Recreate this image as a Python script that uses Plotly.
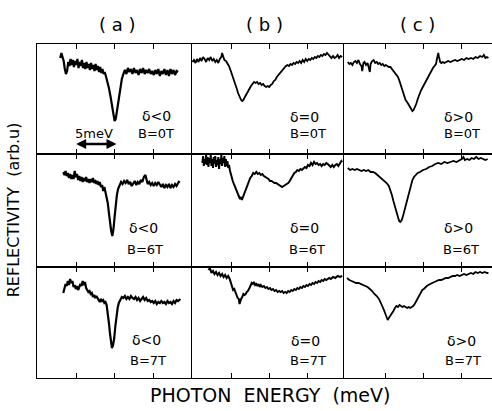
import plotly.graph_objects as go
from plotly.subplots import make_subplots

# ---------------- data (photon energy in meV, reflectivity in arb. units) -------------
A1 = [(2.8,96),(2.95,101),(3.1,97),(3.25,93),(3.4,85),(3.55,80),(3.7,83),(3.85,92),(4.0,88),(4.15,95),
      (4.3,89),(4.45,94),(4.6,87),(4.75,93),(4.9,89),(5.05,95),(5.2,86),(5.35,92),(5.5,88),(5.65,94),
      (5.8,86),(5.95,91),(6.1,85),(6.25,92),(6.4,86),(6.55,90),(6.7,84),(6.85,91),(7.0,85),(7.15,89),
      (7.3,83),(7.45,90),(7.6,84),(7.75,88),(7.9,82),(8.05,87),(8.2,81),(8.35,85),(8.5,80),(8.65,82),
      (8.8,78),(9.0,73),(9.2,66),(9.4,58),(9.6,48),(9.8,38),(9.95,33),(10.1,35),(10.3,45),(10.5,57),
      (10.7,67),(10.9,75),(11.1,80),(11.3,84),(11.5,80),(11.7,86),(11.9,82),(12.1,85),(12.3,80),(12.5,86),
      (12.7,81),(12.9,84),(13.1,79),(13.3,85),(13.5,81),(13.7,86),(13.9,80),(14.1,84),(14.3,81),(14.5,85),
      (14.7,80),(14.9,83),(15.1,79),(15.3,84),(15.5,80),(15.7,85),(15.9,78),(16.1,83),(16.3,80),(16.5,85),
      (16.7,79),(16.9,84),(17.1,78),(17.3,85),(17.5,80),(17.7,84),(17.9,79),(18.1,83),(18.3,82)]

A2 = [(3.2,95),(3.35,92),(3.5,96),(3.65,91),(3.8,94),(3.95,89),(4.1,93),(4.25,88),(4.4,92),(4.55,88),
      (4.7,96),(4.85,90),(5.0,93),(5.15,87),(5.3,91),(5.45,86),(5.6,90),(5.75,85),(5.9,89),(6.05,86),
      (6.2,90),(6.35,85),(6.5,88),(6.65,84),(6.8,88),(6.95,85),(7.1,89),(7.25,84),(7.4,87),(7.55,83),
      (7.7,86),(7.85,82),(8.0,85),(8.15,80),(8.3,82),(8.45,76),(8.6,80),(8.75,75),(8.9,72),(9.05,64),
      (9.2,54),(9.35,44),(9.5,36),(9.65,31),(9.8,38),(9.95,50),(10.1,62),(10.25,72),(10.4,78),(10.6,82),
      (10.8,85),(11.0,83),(11.2,86),(11.4,84),(11.6,87),(11.8,83),(12.0,85),(12.2,81),(12.4,84),(12.6,86),
      (12.8,82),(13.0,85),(13.2,83),(13.4,87),(13.6,85),(13.8,90),(14.0,92),(14.15,86),(14.3,83),(14.5,85),
      (14.7,82),(14.9,84),(15.1,81),(15.3,84),(15.5,82),(15.7,85),(15.9,83),(16.1,80),(16.3,83),(16.5,79),
      (16.7,82),(16.9,80),(17.1,83),(17.3,79),(17.5,82),(17.7,80),(17.9,83),(18.1,81),(18.3,84),(18.5,86)]

A3 = [(3.2,85),(3.35,90),(3.5,94),(3.65,92),(3.8,97),(3.95,93),(4.1,99),(4.25,95),(4.4,97),(4.55,91),
      (4.7,93),(4.85,89),(5.0,92),(5.15,88),(5.3,91),(5.45,94),(5.6,92),(5.75,97),(5.9,93),(6.05,96),
      (6.2,90),(6.35,88),(6.5,86),(6.65,87),(6.8,84),(6.95,85),(7.1,81),(7.25,83),(7.4,80),(7.55,82),
      (7.7,79),(7.85,78),(8.0,76),(8.15,79),(8.3,77),(8.45,78),(8.6,75),(8.75,76),(8.9,73),(9.05,66),
      (9.2,55),(9.35,44),(9.5,34),(9.6,30),(9.75,33),(9.9,40),(10.05,52),(10.2,62),(10.35,70),(10.5,75),
      (10.7,79),(10.9,81),(11.1,80),(11.3,82),(11.5,79),(11.7,81),(11.9,79),(12.1,82),(12.3,80),(12.5,79),
      (12.7,81),(12.9,78),(13.1,80),(13.3,77),(13.5,79),(13.7,81),(13.9,78),(14.1,80),(14.3,77),(14.5,78),
      (14.7,76),(14.9,77),(15.1,75),(15.3,77),(15.5,74),(15.7,76),(15.9,75),(16.1,77),(16.3,75),(16.5,76),
      (16.7,74),(16.9,77),(17.1,75),(17.3,76),(17.5,74),(17.7,77),(17.9,75),(18.1,78),(18.3,77),(18.6,79)]

B1 = [(-0.2,92),(0.0,94),(0.2,91),(0.4,95),(0.6,92),(0.8,96),(1.0,93),(1.2,97),(1.4,95),(1.6,92),
      (1.8,96),(2.0,94),(2.2,97),(2.4,93),(2.6,95),(2.8,92),(3.0,94),(3.2,91),(3.4,95),(3.6,97),
      (3.7,101),(3.85,96),(4.0,94),(4.2,93),(4.4,91),(4.6,88),(4.8,84),(5.0,80),(5.2,76),(5.4,71),
      (5.6,66),(5.8,61),(6.0,57),(6.2,54),(6.35,53),(6.5,54),(6.7,57),(6.9,60),(7.1,63),(7.3,66),
      (7.5,68),(7.7,70),(7.9,72),(8.1,71),(8.3,72),(8.5,70),(8.7,71),(8.9,69),(9.1,70),(9.3,68),
      (9.5,67),(9.7,68),(9.9,67),(10.1,69),(10.3,70),(10.5,73),(10.7,74),(10.9,77),(11.1,79),(11.3,80),
      (11.5,82),(11.7,84),(11.9,86),(12.1,88),(12.3,89),(12.5,88),(12.7,90),(12.9,89),(13.1,91),(13.3,90),
      (13.5,92),(13.7,91),(13.9,93),(14.1,91),(14.3,94),(14.5,92),(14.7,95),(14.9,93),(15.1,95),(15.3,94),
      (15.5,96),(15.7,95),(15.9,97),(16.1,96),(16.3,98),(16.5,97),(16.7,99),(16.9,98),(17.1,100),(17.3,99),
      (17.5,101),(17.7,99),(17.9,97),(18.1,96),(18.3,98),(18.5,96),(18.7,97),(18.9,99),(19.1,96),(19.3,98),
      (19.5,97)]

B2 = [(1.1,104),(1.2,111),(1.3,101),(1.4,108),(1.5,103),(1.6,112),(1.7,102),(1.8,110),(1.9,100),(2.0,109),
      (2.1,104),(2.2,112),(2.3,101),(2.4,108),(2.5,99),(2.6,110),(2.7,103),(2.8,111),(2.9,100),(3.0,107),
      (3.1,102),(3.2,110),(3.3,98),(3.4,108),(3.5,103),(3.6,112),(3.7,101),(3.8,109),(3.9,104),(4.0,111),
      (4.1,100),(4.2,108),(4.3,101),(4.4,106),(4.5,99),(4.6,102),(4.75,96),(4.9,91),(5.1,86),(5.3,82),
      (5.5,78),(5.7,74),(5.9,70),(6.05,68),(6.2,70),(6.3,67),(6.45,70),(6.6,73),(6.8,78),(7.0,82),
      (7.2,86),(7.4,89),(7.6,91),(7.8,94),(8.0,93),(8.2,95),(8.4,93),(8.6,94),(8.8,92),(9.0,93),
      (9.2,91),(9.4,90),(9.6,89),(9.8,88),(10.0,86),(10.2,86),(10.4,85),(10.6,84),(10.8,84),(11.0,83),
      (11.2,82),(11.4,81),(11.6,80),(11.8,81),(12.0,82),(12.2,83),(12.4,84),(12.6,86),(12.8,89),(13.0,92),
      (13.2,94),(13.4,95),(13.6,97),(13.8,96),(14.0,98),(14.2,97),(14.4,99),(14.6,100),(14.8,99),(15.0,102),
      (15.2,101),(15.4,104),(15.6,102),(15.8,105),(16.0,103),(16.2,104),(16.4,102),(16.6,103),(16.8,101),(17.0,103),
      (17.2,102),(17.4,104),(17.6,103),(17.8,101),(18.0,100),(18.2,102),(18.4,100),(18.6,102),(18.8,103),(19.0,101),
      (19.2,104),(19.4,106),(19.5,105)]

B3 = [(1.9,108),(2.1,110),(2.3,105),(2.5,107),(2.7,104),(2.9,106),(3.1,103),(3.3,105),(3.5,102),(3.7,104),
      (3.9,101),(4.1,103),(4.3,100),(4.5,102),(4.7,99),(4.85,96),(5.0,91),(5.15,88),(5.3,89),(5.45,85),
      (5.6,83),(5.75,80),(5.9,79),(6.0,74),(6.1,77),(6.2,79),(6.35,81),(6.5,84),(6.65,83),(6.8,84),
      (6.95,86),(7.1,87),(7.3,90),(7.45,93),(7.6,95),(7.75,94),(7.9,96),(8.05,93),(8.2,94),(8.35,92),
      (8.5,94),(8.65,91),(8.8,93),(9.0,91),(9.2,92),(9.4,90),(9.6,91),(9.8,89),(10.0,90),(10.2,88),
      (10.4,89),(10.6,87),(10.8,88),(11.0,86),(11.2,87),(11.4,86),(11.6,87),(11.8,85),(12.0,86),(12.2,85),
      (12.4,87),(12.6,86),(12.8,88),(13.0,87),(13.2,89),(13.4,88),(13.6,90),(13.8,89),(14.0,91),(14.2,90),
      (14.4,92),(14.6,91),(14.8,93),(15.0,92),(15.2,94),(15.4,93),(15.6,95),(15.8,94),(16.0,96),(16.2,95),
      (16.4,97),(16.6,96),(16.8,98),(17.0,97),(17.2,99),(17.4,98),(17.6,99),(17.8,100),(18.0,99),(18.3,101),
      (18.6,100),(18.9,102),(19.2,101),(19.5,102)]

C1 = [(0.1,92),(0.3,90),(0.5,91),(0.7,89),(0.9,92),(1.1,93),(1.3,91),(1.5,94),(1.7,90),(1.9,88),
      (2.0,83),(2.15,91),(2.3,92),(2.5,89),(2.7,91),(2.85,87),(3.0,82),(3.1,90),(3.3,93),(3.5,94),
      (3.7,91),(3.9,92),(4.1,90),(4.3,91),(4.5,89),(4.7,90),(4.9,88),(5.1,89),(5.3,88),(5.5,87),
      (5.7,87),(5.9,85),(6.1,84),(6.3,82),(6.5,80),(6.7,77),(6.9,73),(7.1,68),(7.3,62),(7.5,57),
      (7.7,54),(7.9,52),(8.1,49),(8.3,47),(8.5,44),(8.6,43),(8.75,44),(8.9,46),(9.1,50),(9.3,55),
      (9.5,60),(9.7,63),(9.9,66),(10.1,69),(10.3,72),(10.5,75),(10.7,78),(10.9,81),(11.1,84),(11.3,86),
      (11.5,88),(11.7,90),(11.85,96),(12.0,101),(12.1,97),(12.25,92),(12.4,91),(12.6,92),(12.8,91),(13.0,92),
      (13.3,93),(13.6,92),(13.9,93),(14.2,94),(14.5,93),(14.8,94),(15.1,95),(15.4,94),(15.7,96),(16.0,95),
      (16.3,96),(16.6,95),(16.9,97),(17.2,96),(17.5,98),(17.8,97),(18.0,99),(18.2,96),(18.4,97),(18.6,96)]

C2 = [(0.1,99),(0.4,97),(0.7,98),(1.0,97),(1.3,98),(1.6,97),(1.9,96),(2.2,97),(2.5,96),(2.8,97),
      (3.1,95),(3.4,95),(3.7,94),(4.0,92),(4.3,90),(4.6,88),(4.9,86),(5.2,84),(5.5,81),(5.7,77),
      (5.9,72),(6.1,66),(6.3,60),(6.5,54),(6.7,49),(6.85,46),(7.0,45),(7.2,47),(7.4,52),(7.6,58),
      (7.8,64),(8.0,70),(8.2,76),(8.4,82),(8.6,87),(8.8,90),(9.0,92),(9.3,94),(9.6,95),(10.0,97),
      (10.4,98),(10.8,100),(11.2,101),(11.6,103),(12.0,104),(12.4,103),(12.8,105),(13.2,104),(13.6,105),(14.0,106),
      (14.4,105),(14.8,107),(15.1,108),(15.3,110),(15.5,107),(15.8,108),(16.1,107),(16.4,109),(16.7,108),(17.0,110),
      (17.3,108),(17.6,109),(17.9,108),(18.2,107),(18.5,108)]

C3 = [(0.0,100),(0.3,98),(0.6,97),(0.9,96),(1.2,95),(1.5,95),(1.8,94),(2.1,93),(2.4,92),(2.7,91),
      (3.0,89),(3.3,87),(3.6,84),(3.9,82),(4.2,79),(4.4,76),(4.6,73),(4.8,69),(5.0,65),(5.2,61),
      (5.35,58),(5.5,60),(5.7,62),(5.9,65),(6.1,67),(6.3,70),(6.5,72),(6.7,71),(6.9,73),(7.1,72),
      (7.3,71),(7.5,72),(7.7,71),(7.9,70),(8.1,71),(8.3,70),(8.5,71),(8.7,72),(8.9,74),(9.1,77),
      (9.3,80),(9.5,83),(9.7,86),(9.9,88),(10.1,89),(10.3,91),(10.5,92),(10.7,93),(10.9,94),(11.2,95),
      (11.5,96),(11.8,97),(12.1,98),(12.4,98),(12.7,99),(13.0,100),(13.3,100),(13.6,101),(13.9,102),(14.2,102),
      (14.5,103),(14.8,102),(15.1,103),(15.4,104),(15.7,103),(16.0,104),(16.3,105),(16.6,104),(16.9,106),(17.2,105),
      (17.5,106),(17.8,105),(18.1,106),(18.4,105),(18.6,105)]

PANELS = [[A1, B1, C1], [A2, B2, C2], [A3, B3, C3]]
COLUMN_LABELS = ["( a )", "( b )", "( c )"]
DELTA_LABELS = ["δ<0", "δ=0", "δ>0"]
FIELD_LABELS = ["B=0T", "B=6T", "B=7T"]
TICK_VALUES = [5, 10, 15]
SCALE_BAR = "5meV"

# ---------------- figure ----------------
W, H = 492, 411
fig = make_subplots(rows=3, cols=3, column_widths=[155, 152, 148], row_heights=[110, 113, 111],
                    horizontal_spacing=0, vertical_spacing=0)

x_ranges = [[-0.26, 20.13], [-0.26, 19.74], [-0.4, 19.07]]
y_ranges = [[0, 110], [0, 113], [0, 111]]
widths = [[2.2, 1.8, 1.8], [2.2, 2.0, 1.8], [2.2, 2.0, 1.8]]

for r in range(3):
    for c in range(3):
        pts = PANELS[r][c]
        fig.add_trace(go.Scatter(x=[p[0] for p in pts], y=[p[1] for p in pts], mode="lines",
                                 line=dict(color="black", width=widths[r][c]),
                                 showlegend=False, hoverinfo="skip"), row=r + 1, col=c + 1)
        fig.update_xaxes(range=x_ranges[c], row=r + 1, col=c + 1)
        fig.update_yaxes(range=y_ranges[r], row=r + 1, col=c + 1)

fig.update_xaxes(showline=True, linecolor="black", linewidth=1.1, mirror="ticks", ticks="inside",
                 ticklen=5, tickwidth=1.1, tickcolor="black", tickvals=TICK_VALUES,
                 showticklabels=False, showgrid=False, zeroline=False)
fig.update_yaxes(showline=True, linecolor="black", linewidth=1.3, mirror=False, ticks="",
                 showticklabels=False, showgrid=False, zeroline=False)

FONT = "DejaVu Sans"
ann = []
delta_pos = [[(15.4, 38), (14.5, 37), (14.7, 37)],
             [(13.8, 39), (14.6, 39), (14.6, 39)],
             [(14.1, 38), (14.7, 37), (15.1, 37)]]
field_pos = [[(15.4, 21), (15.0, 21), (15.1, 21)],
             [(14.0, 18), (14.9, 18), (15.0, 18)],
             [(14.3, 18), (15.0, 18), (15.3, 18)]]
for r in range(3):
    for c in range(3):
        k = r * 3 + c + 1
        xr = "x" if k == 1 else f"x{k}"
        yr = "y" if k == 1 else f"y{k}"
        dx, dy = delta_pos[r][c]
        fx, fy = field_pos[r][c]
        ann.append(dict(x=dx, y=dy, xref=xr, yref=yr, text=DELTA_LABELS[c], showarrow=False,
                        xanchor="center", yanchor="middle",
                        font=dict(family=FONT, size=14, color="black")))
        ann.append(dict(x=fx, y=fy, xref=xr, yref=yr, text=FIELD_LABELS[r], showarrow=False,
                        xanchor="center", yanchor="middle",
                        font=dict(family=FONT, size=13, color="black")))

# scale bar in panel (a), B=0T
ann.append(dict(x=7.2, y=21, xref="x", yref="y", text=SCALE_BAR, showarrow=False,
                xanchor="center", yanchor="middle", font=dict(family=FONT, size=13, color="black")))
ann.append(dict(x=10.2, y=10, ax=4.7, ay=10, xref="x", yref="y", axref="x", ayref="y", text="",
                showarrow=True, arrowhead=2, arrowside="end+start", arrowsize=0.8, arrowwidth=2.5,
                arrowcolor="black"))

# column labels
for xc, lab in zip([0.178, 0.501, 0.837], COLUMN_LABELS):
    ann.append(dict(x=xc, y=1.057, xref="paper", yref="paper", text=lab, showarrow=False,
                    xanchor="center", yanchor="middle",
                    font=dict(family=FONT, size=18, color="black")))

# axis titles
ann.append(dict(x=0.512, y=-0.052, xref="paper", yref="paper", text="PHOTON  ENERGY  (meV)",
                xanchor="center", yanchor="middle",
                showarrow=False, font=dict(family=FONT, size=19, color="black")))
ann.append(dict(x=-0.05, y=0.503, xref="paper", yref="paper", text="REFLECTIVITY  (arb.u)",
                xanchor="center", yanchor="middle",
                textangle=-90, showarrow=False, font=dict(family=FONT, size=16, color="black")))

fig.update_layout(width=W, height=H, margin=dict(l=37, r=0, t=44, b=33),
                  paper_bgcolor="white", plot_bgcolor="white", annotations=ann, showlegend=False)

fig.write_html("out.html", config={"displayModeBar": False},
               post_script="document.body.style.margin='0px';document.body.style.overflow='hidden';")
